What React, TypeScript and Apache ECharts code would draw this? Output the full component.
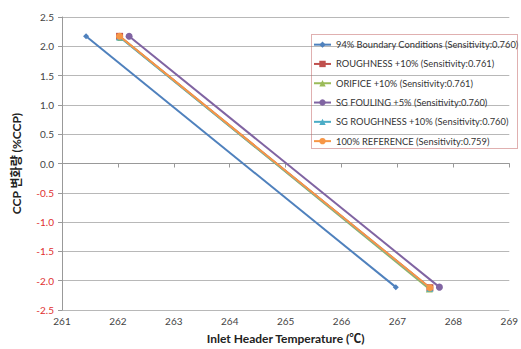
import React, { useEffect, useRef } from "react";
import * as echarts from "echarts";

const FONT = "Lato, 'Noto Sans CJK KR', sans-serif";

const seriesNames = [
  "94% Boundary Conditions (Sensitivity:0.760)",
  "ROUGHNESS +10% (Sensitivity:0.761)",
  "ORIFICE +10% (Sensitivity:0.761)",
  "SG FOULING +5% (Sensitivity:0.760)",
  "SG ROUGHNESS +10% (Sensitivity:0.760)",
  "100% REFERENCE (Sensitivity:0.759)",
];

// [temperature, CCP change] end points of each case
const boundary94 = [[261.43, 2.17], [266.97, -2.11]];
const roughness10 = [[262.03, 2.17], [267.58, -2.12]];
const orifice10 = [[262.05, 2.15], [267.57, -2.14]];
const sgFouling5 = [[262.2, 2.17], [267.75, -2.11]];
const sgRoughness10 = [[262.03, 2.16], [267.58, -2.13]];
const reference100 = [[262.03, 2.17], [267.58, -2.12]];

const seriesData = [boundary94, roughness10, orifice10, sgFouling5, sgRoughness10, reference100];
const colors = ["#4F81BD", "#C0504D", "#9BBB59", "#8064A2", "#4BACC6", "#F79646"];
const symbols = ["diamond", "rect", "triangle", "circle", "triangle", "circle"];
const symbolSizes = [6, 7, 7, 7, 7, 7];

const xTicks = [261, 262, 263, 264, 265, 266, 267, 268, 269];
const yMin = -2.5;
const yMax = 2.5;

export default function App() {
  const ref = useRef<HTMLDivElement>(null);
  useEffect(() => {
    const chart = echarts.init(ref.current!, undefined, { renderer: "svg" });
    chart.setOption({
      animation: false,
      backgroundColor: "#fff",
      textStyle: { fontFamily: FONT },
      grid: { left: 62, right: 10, top: 17, bottom: 39 },
      xAxis: {
        type: "value",
        min: xTicks[0],
        max: xTicks[xTicks.length - 1],
        interval: 1,
        name: "Inlet Header Temperature (℃)",
        nameLocation: "middle",
        nameGap: 22,
        nameTextStyle: { fontFamily: FONT, fontSize: 12, fontWeight: "bold", color: "#222" },
        axisLine: { show: true, lineStyle: { color: "#999" } },
        axisTick: { show: true, length: 4, lineStyle: { color: "#999" } },
        axisLabel: { fontFamily: FONT, fontSize: 10, color: "#444", margin: 6 },
        splitLine: { show: false },
      },
      yAxis: {
        type: "value",
        min: yMin,
        max: yMax,
        interval: 0.5,
        name: "CCP 변화량 (%CCP)",
        nameLocation: "middle",
        nameGap: 40,
        nameTextStyle: { fontFamily: FONT, fontSize: 12, fontWeight: "bold", color: "#222" },
        axisLine: { show: true, lineStyle: { color: "#999" } },
        axisTick: { show: true, length: 4, lineStyle: { color: "#999" } },
        axisLabel: {
          fontFamily: FONT,
          fontSize: 10,
          margin: 8,
          formatter: (v: number) => (v < 0 ? "{neg|" + v.toFixed(1) + "}" : "{pos|" + v.toFixed(1) + "}"),
          rich: {
            neg: { color: "#E03030", fontSize: 10, fontFamily: FONT },
            pos: { color: "#444", fontSize: 10, fontFamily: FONT },
          },
        },
        splitLine: { show: true, lineStyle: { color: "#b8b8b8" } },
      },
      legend: {
        orient: "vertical",
        left: 310,
        top: 37,
        itemWidth: 17,
        itemHeight: 8,
        itemGap: 10,
        padding: [3, 2, 2, 3],
        textStyle: { fontFamily: FONT, fontSize: 9.3, color: "#333" },
        data: seriesNames,
      },
      graphic: [
        {
          type: "rect",
          shape: { x: 311.5, y: 34.5, width: 206, height: 114 },
          style: { fill: "rgba(0,0,0,0)", stroke: "#c06060", lineWidth: 1, lineDash: [1, 1] },
          z: 100,
        },
      ],
      series: seriesNames.map((name, i) => ({
        name,
        type: "line",
        data: seriesData[i],
        color: colors[i],
        symbol: symbols[i],
        symbolSize: symbolSizes[i],
        showSymbol: true,
        lineStyle: { width: 2, color: colors[i] },
        itemStyle: { color: colors[i] },
        z: 2 + i,
      })),
    });
    return () => chart.dispose();
  }, []);
  return <div ref={ref} style={{ width: 521, height: 349, position: "absolute", left: 0, top: 0 }} />;
}
